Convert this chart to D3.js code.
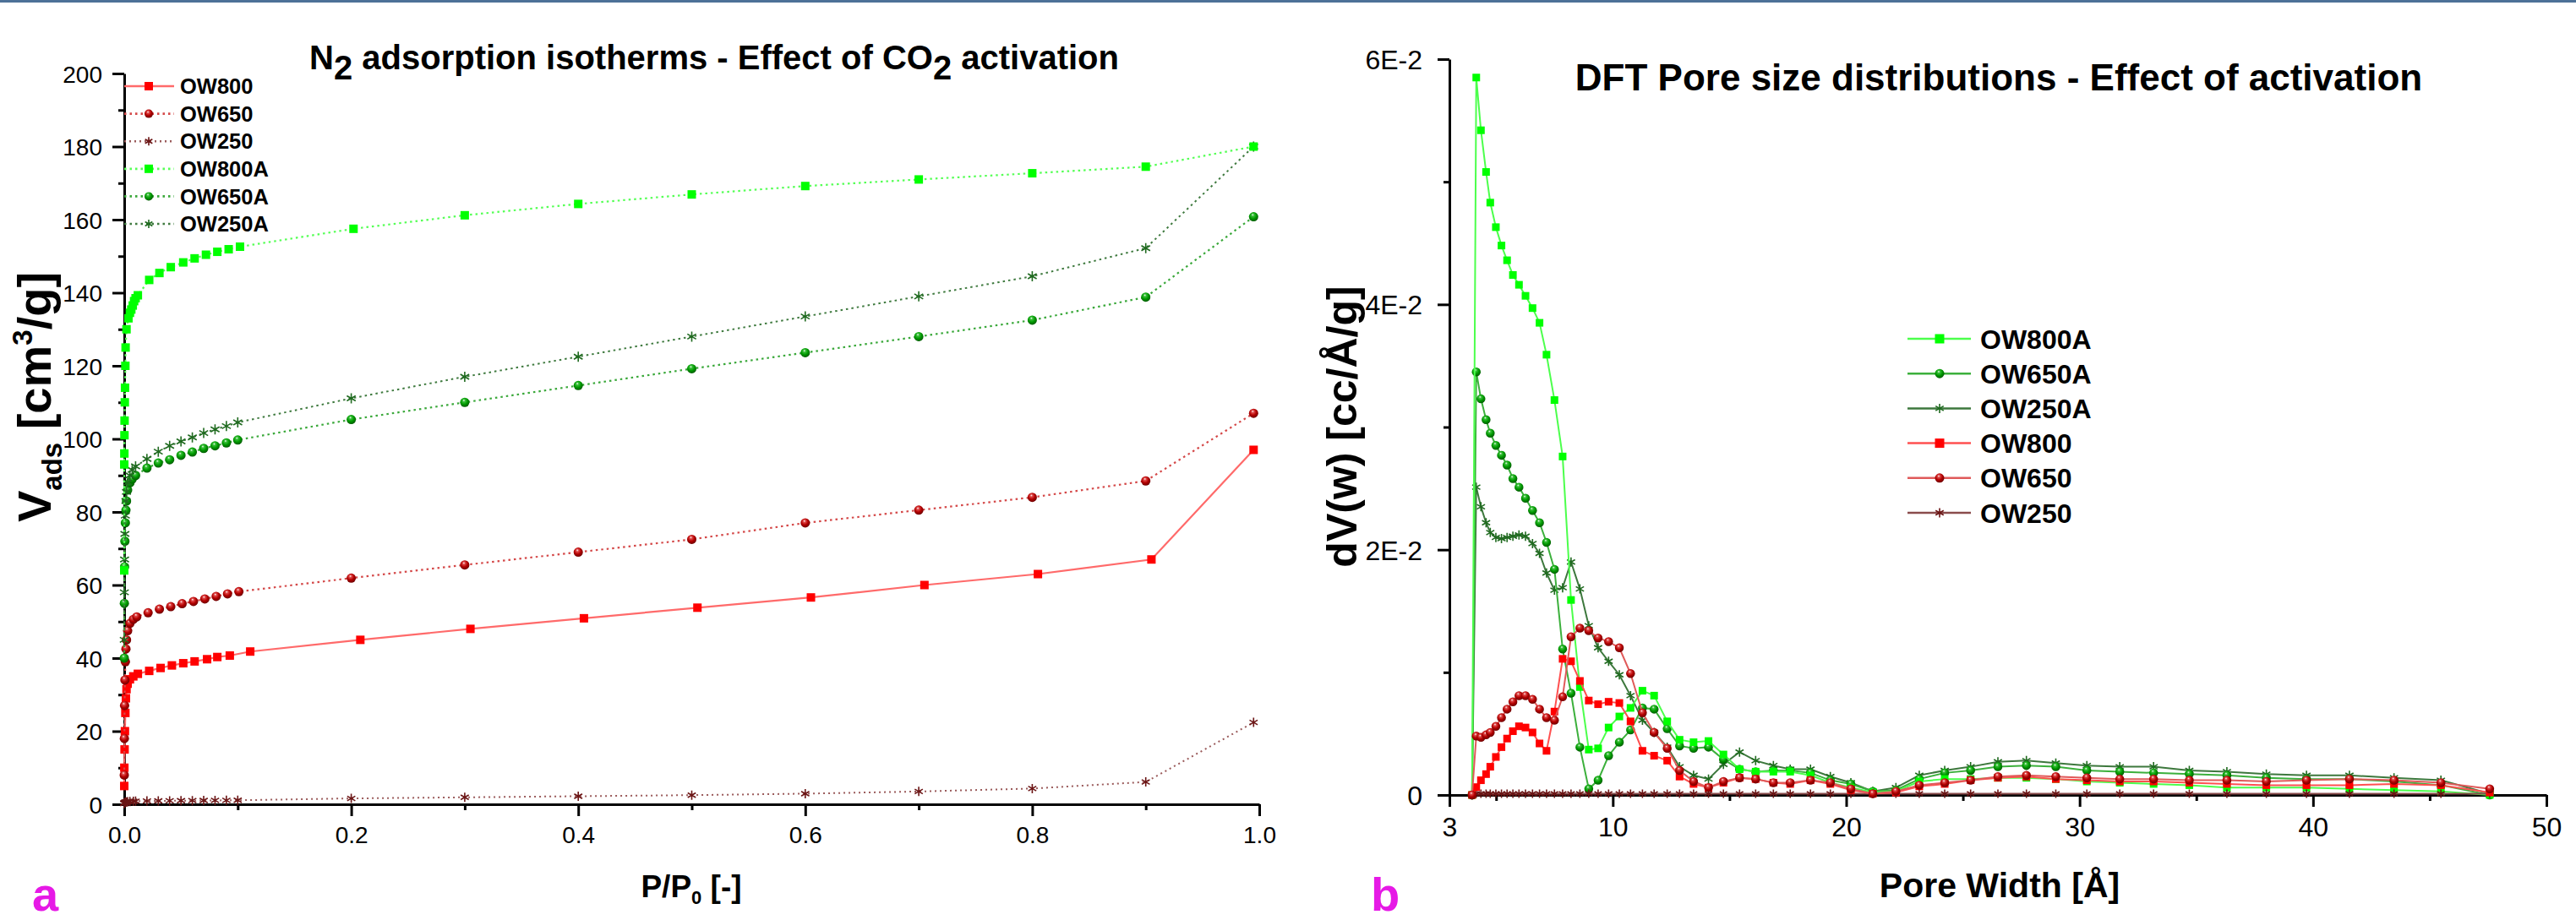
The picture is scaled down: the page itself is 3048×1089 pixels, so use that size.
<!DOCTYPE html>
<html lang="en">
<head>
<meta charset="UTF-8" />
<title>N2 isotherms and DFT pore size distributions</title>
<script src="https://d3js.org/d3.v7.min.js"></script>
<style>
  body { margin: 0; background: #fff; }
  svg { display: block; font-family: "Liberation Sans", Arial, sans-serif; }
  .axis path, .axis line { stroke: #000; stroke-width: 3px; }
  .axis text { fill: #000; font-family: "Liberation Sans", Arial, sans-serif; }
</style>
</head>
<body>
<svg width="3048" height="1089"></svg>
<script>
// ---------- panel a : N2 isotherms (P/P0, V ads) ----------
const pOW800  = [0.00002, 0.0001, 0.0003, 0.0006, 0.001, 0.0015, 0.002, 0.003, 0.005, 0.008,
                 0.012, 0.022, 0.032, 0.042, 0.052, 0.062, 0.073, 0.082, 0.093, 0.111,
                 0.208, 0.305, 0.405, 0.505, 0.605, 0.705, 0.805, 0.905, 0.995];
const vOW800  = [5, 10, 15, 20, 25, 29, 31.5, 33, 34.2, 35,
                 35.7, 36.5, 37.3, 38, 38.6, 39.1, 39.7, 40.3, 40.7, 41.8,
                 45, 48, 50.9, 53.8, 56.6, 60, 63, 67, 97];
const pOW650  = [0.00002, 0.0001, 0.0003, 0.0006, 0.001, 0.0015, 0.002, 0.003, 0.005, 0.008,
                 0.011, 0.021, 0.031, 0.041, 0.051, 0.061, 0.071, 0.081, 0.091, 0.101,
                 0.2, 0.3, 0.4, 0.5, 0.6, 0.7, 0.8, 0.9, 0.995];
const vOW650  = [8, 18, 27, 34, 39, 42.5, 45, 47.5, 49.5, 50.6,
                 51.3, 52.4, 53.4, 54.1, 54.9, 55.5, 56.2, 56.9, 57.6, 58.2,
                 61.9, 65.5, 69, 72.5, 77, 80.5, 84, 88.5, 107];
const pOW250  = [0.00002, 0.0001, 0.0003, 0.0006, 0.001, 0.0015, 0.002, 0.003, 0.005, 0.008,
                 0.01, 0.02, 0.03, 0.04, 0.05, 0.06, 0.07, 0.08, 0.09, 0.1,
                 0.2, 0.3, 0.4, 0.5, 0.6, 0.7, 0.8, 0.9, 0.995];
const vOW250  = [0.2, 0.3, 0.4, 0.5, 0.55, 0.6, 0.65, 0.7, 0.75, 0.8,
                 0.85, 0.9, 0.92, 0.95, 0.98, 1.0, 1.03, 1.06, 1.08, 1.1,
                 1.6, 1.9, 2.2, 2.5, 2.9, 3.5, 4.3, 6.1, 22.4];
const pOW800A = [0.00001, 0.00003, 0.0001, 0.0002, 0.0003, 0.0005, 0.0007, 0.001, 0.0012, 0.002,
                 0.0037, 0.005, 0.0062, 0.0075, 0.0087, 0.01, 0.012,
                 0.022, 0.031, 0.041, 0.052, 0.062, 0.072, 0.082, 0.092, 0.102,
                 0.202, 0.3, 0.4, 0.5, 0.6, 0.7, 0.8, 0.9, 0.995];
const vOW800A = [64, 93, 96, 101, 105, 110, 114, 120, 125, 130,
                 133, 134.5, 135.4, 136.5, 137.7, 138.5, 139.3,
                 143.5, 145.4, 147, 148.3, 149.4, 150.4, 151.2, 151.9, 152.6,
                 157.5, 161.2, 164.3, 166.9, 169.2, 171, 172.7, 174.5, 180];
const pOW650A = [0.00002, 0.0001, 0.0003, 0.0006, 0.001, 0.0015, 0.002, 0.003, 0.005, 0.007,
                 0.01, 0.02, 0.03, 0.04, 0.05, 0.06, 0.07, 0.08, 0.09, 0.1,
                 0.2, 0.3, 0.4, 0.5, 0.6, 0.7, 0.8, 0.9, 0.995];
const vOW650A = [40, 55, 65, 72, 77, 80.5, 83, 86, 88, 89,
                 90, 92, 93.4, 94.3, 95.5, 96.4, 97.4, 98.1, 98.9, 99.7,
                 105.3, 110, 114.6, 119.2, 123.6, 128, 132.5, 138.8, 160.8];
const pOW250A = [0.00002, 0.0001, 0.0003, 0.0006, 0.001, 0.0015, 0.002, 0.003, 0.005, 0.007,
                 0.01, 0.02, 0.03, 0.04, 0.05, 0.06, 0.07, 0.08, 0.09, 0.1,
                 0.2, 0.3, 0.4, 0.5, 0.6, 0.7, 0.8, 0.9, 0.995];
const vOW250A = [45, 58, 67, 74, 79, 83, 85.5, 88, 90, 91.5,
                 92.5, 94.5, 96.5, 98.1, 99.3, 100.4, 101.6, 102.6, 103.5, 104.5,
                 111.1, 117, 122.5, 128, 133.5, 139, 144.5, 152.2, 180];

const isoXTicks = [0, 0.2, 0.4, 0.6, 0.8, 1.0];
const isoXMinor = [0.1, 0.3, 0.5, 0.7, 0.9];
const isoYTicks = [0, 20, 40, 60, 80, 100, 120, 140, 160, 180, 200];
const isoYMinor = [10, 30, 50, 70, 90, 110, 130, 150, 170, 190];

// ---------- panel b : DFT pore size distributions ----------
const poreWidth = [3.97, 4.15, 4.35, 4.57, 4.75, 4.99, 5.23, 5.47, 5.72, 5.98, 6.26, 6.56, 6.86, 7.16,
  7.50, 7.85, 8.21, 8.59, 8.97, 9.37, 9.82, 10.28, 10.76, 11.27, 11.77, 12.33, 12.86, 13.46,
  14.10, 14.74, 15.43, 16.12, 16.88, 17.60, 18.47, 19.32, 20.20, 21.14, 22.13, 23.13, 24.22,
  25.33, 26.50, 27.72, 28.98, 30.31, 31.72, 33.17, 34.70, 36.31, 38.00, 39.72, 41.56, 43.47,
  45.48, 47.57];
const psdOW800A = [0, 0.0585, 0.0542, 0.0508, 0.0483, 0.0463, 0.0448, 0.0436, 0.0424, 0.0416, 0.0407,
  0.0397, 0.0385, 0.0359, 0.0322, 0.0276, 0.0159, 0.0088, 0.0037, 0.0038, 0.0055, 0.0064, 0.0071,
  0.0085, 0.0081, 0.0060, 0.0045, 0.0043, 0.0044, 0.0033, 0.0021, 0.0019, 0.0019, 0.0019,
  0.0016, 0.0010, 0.0006, 0.0002, 0.0003, 0.0011, 0.0013, 0.0013, 0.0014, 0.0014, 0.0013, 0.0011,
  0.0010, 0.0009, 0.0008, 0.0006, 0.0006, 0.0006, 0.0005, 0.0004, 0.0003, 0];
const psdOW650A = [0, 0.0345, 0.0323, 0.0306, 0.0295, 0.0285, 0.0277, 0.0269, 0.0258, 0.0251, 0.0242,
  0.0232, 0.0222, 0.0206, 0.0184, 0.0119, 0.0083, 0.0039, 0.0005, 0.0012, 0.0032, 0.0043, 0.0053,
  0.0071, 0.0070, 0.0054, 0.0040, 0.0038, 0.0039, 0.0029, 0.0021, 0.0019, 0.0020, 0.0020,
  0.0018, 0.0012, 0.0009, 0.0003, 0.0004, 0.0013, 0.0018, 0.0020, 0.0023, 0.0024, 0.0023, 0.0020,
  0.0019, 0.0018, 0.0017, 0.0016, 0.0014, 0.0013, 0.0013, 0.0011, 0.0008, 0];
const psdOW250A = [0, 0.0251, 0.0235, 0.0222, 0.0214, 0.0210, 0.0209, 0.0210, 0.0211, 0.0212, 0.0211,
  0.0205, 0.0197, 0.0181, 0.0167, 0.0169, 0.0190, 0.0168, 0.0138, 0.0120, 0.0109, 0.0098, 0.0081,
  0.0061, 0.0051, 0.0039, 0.0023, 0.0016, 0.0013, 0.0025, 0.0035, 0.0028, 0.0024, 0.0021,
  0.0021, 0.0015, 0.0010, 0.0003, 0.0006, 0.0016, 0.0020, 0.0023, 0.0027, 0.0028, 0.0026, 0.0024,
  0.0023, 0.0023, 0.0020, 0.0019, 0.0017, 0.0016, 0.0016, 0.0014, 0.0012, 0.0001];
const psdOW800 = [0, 0.00064, 0.0012, 0.0017, 0.0023, 0.0031, 0.0039, 0.0046, 0.0052, 0.0056, 0.0055,
  0.0051, 0.0042, 0.0036, 0.0068, 0.0111, 0.0109, 0.0093, 0.0077, 0.0074, 0.0076, 0.0075, 0.0060,
  0.0036, 0.0032, 0.0028, 0.0015, 0.0009, 0.0006, 0.0010, 0.0014, 0.0013, 0.0010, 0.0009,
  0.0012, 0.0009, 0.0004, 0.0001, 0.0002, 0.0007, 0.0009, 0.0012, 0.0014, 0.0015, 0.0013, 0.0012,
  0.0011, 0.0011, 0.0010, 0.0009, 0.0008, 0.0008, 0.0008, 0.0009, 0.0008, 0.0002];
const psdOW650 = [0, 0.0048, 0.0047, 0.0049, 0.0051, 0.0056, 0.0063, 0.0070, 0.0076, 0.0081, 0.0081,
  0.0078, 0.0070, 0.0063, 0.0061, 0.0080, 0.0129, 0.0136, 0.0134, 0.0128, 0.0125, 0.0120, 0.0099,
  0.0067, 0.0051, 0.0038, 0.0020, 0.0011, 0.0006, 0.0011, 0.0014, 0.0013, 0.0010, 0.0010,
  0.0012, 0.0010, 0.0005, 0.0001, 0.0003, 0.0008, 0.0010, 0.0012, 0.0015, 0.0016, 0.0015, 0.0014,
  0.0013, 0.0013, 0.0012, 0.0012, 0.0011, 0.0012, 0.0013, 0.0012, 0.0010, 0.0005];
const psdOW250 = [0, 0.0001, 0.0001, 0.0001, 0.0001, 0.0001, 0.0001, 0.0001, 0.0001, 0.0001, 0.0001,
  0.0001, 0.0001, 0.0001, 0.0001, 0.0001, 0.0001, 0.0001, 0.0001, 0.0001, 0.0001, 0.0001, 0.0001,
  0.0001, 0.0001, 0.0001, 0.0001, 0.0001, 0.0001, 0.0001, 0.0001, 0.0001, 0.0001, 0.0001,
  0.0001, 0.0001, 0.0001, 0.0001, 0.0001, 0.0001, 0.0001, 0.0001, 0.0001, 0.0001, 0.0001, 0.0001,
  0.0001, 0.0001, 0.0001, 0.0001, 0.0001, 0.0001, 0.0001, 0.0001, 0.0001, 0.0001];

const psdXTicks = [3, 10, 20, 30, 40, 50];
const psdXMinor = [5, 15, 25, 35, 45];
const psdYTicks = [0, 0.02, 0.04, 0.06];
const psdYMinor = [0.01, 0.03, 0.05];
const psdYLabels = ["0", "2E-2", "4E-2", "6E-2"];

// ---------- drawing ----------
const svg = d3.select("svg");
svg.append("rect").attr("x", 0).attr("y", 0).attr("width", 3048).attr("height", 3).attr("fill", "#4d7198");

const defs = svg.append("defs");
function sphereGrad(id, light, base, dark) {
  const gr = defs.append("radialGradient").attr("id", id)
    .attr("cx", "45%").attr("cy", "40%").attr("r", "60%").attr("fx", "40%").attr("fy", "28%");
  gr.append("stop").attr("offset", "0%").attr("stop-color", "#ffffff");
  gr.append("stop").attr("offset", "22%").attr("stop-color", light);
  gr.append("stop").attr("offset", "60%").attr("stop-color", base);
  gr.append("stop").attr("offset", "100%").attr("stop-color", dark);
}
sphereGrad("sphRed", "#e04a4a", "#b30000", "#6e0000");
sphereGrad("sphGreen", "#3cc03c", "#009a00", "#005a00");

const xIso = d3.scaleLinear().domain([0, 1]).range([147, 1490]);
const yIso = d3.scaleLinear().domain([0, 200]).range([952, 87]);
const xPsd = d3.scaleLinear().domain([3, 50]).range([1715, 3013]);
const yPsd = d3.scaleLinear().domain([0, 0.06]).range([941, 70]);

function drawMarker(g, type, color, size) {
  if (type === "square") {
    g.append("rect").attr("x", -size / 2).attr("y", -size / 2)
      .attr("width", size).attr("height", size).attr("fill", color);
  } else if (type === "circle") {
    g.append("circle").attr("r", size / 2).attr("fill", color);
  } else {
    const r = size / 2;
    const a = r * Math.cos(Math.PI / 6), b = r * Math.sin(Math.PI / 6);
    g.append("path")
      .attr("d", `M0,${-r}V${r}M${-a},${-b}L${a},${b}M${-a},${b}L${a},${-b}`)
      .attr("stroke", color).attr("stroke-width", 1.6).attr("fill", "none");
  }
}

function drawSeries(layer, xs, ys, x, y, st, msize) {
  const pts = xs.map((d, i) => [d, ys[i]]);
  const line = d3.line().x(d => x(d[0])).y(d => y(d[1]));
  layer.append("path").datum(pts).attr("d", line)
    .attr("fill", "none").attr("stroke", st.line).attr("stroke-width", st.width)
    .attr("stroke-dasharray", st.dash || null);
  layer.append("g").selectAll("g").data(pts).join("g")
    .attr("transform", d => `translate(${x(d[0])},${y(d[1])})`)
    .each(function () { drawMarker(d3.select(this), st.marker, st.fill, msize); });
}

function axes(x, y, xt, xm, yt, ym, fs, xfmt, yfmt, ypad) {
  const gx = svg.append("g").attr("class", "axis").attr("transform", `translate(0,${y.range()[0]})`);
  gx.call(d3.axisBottom(x).tickValues(xm).tickSize(7).tickFormat(""));
  gx.select(".domain").remove();
  const gx2 = svg.append("g").attr("class", "axis").attr("transform", `translate(0,${y.range()[0]})`);
  gx2.call(d3.axisBottom(x).tickValues(xt).tickSize(14).tickSizeOuter(0).tickPadding(12).tickFormat(xfmt));
  const gy = svg.append("g").attr("class", "axis").attr("transform", `translate(${x.range()[0]},0)`);
  gy.call(d3.axisLeft(y).tickValues(ym).tickSize(7).tickFormat(""));
  gy.select(".domain").remove();
  const gy2 = svg.append("g").attr("class", "axis").attr("transform", `translate(${x.range()[0]},0)`);
  gy2.call(d3.axisLeft(y).tickValues(yt).tickSize(14).tickSizeOuter(0).tickPadding(ypad).tickFormat(yfmt));
  [gx, gx2, gy, gy2].forEach(g => g.attr("font-size", null).attr("font-family", null));
  gx2.selectAll("text").attr("font-size", fs);
  gy2.selectAll("text").attr("font-size", fs);
  gx2.selectAll("text").attr("dy", "0.71em");
  gy2.selectAll("text").attr("dy", "0.36em");
}

// styles
const isoStyle = {
  OW800:  { line: "#ff6a6a", width: 2.2, dash: null,  marker: "square", fill: "#ff0000" },
  OW650:  { line: "#d44848", width: 2.2, dash: "2.5,4", marker: "circle", fill: "url(#sphRed)" },
  OW250:  { line: "#9a5a5a", width: 2, dash: "2,4", marker: "star", fill: "#6b1515" },
  OW800A: { line: "#55ff55", width: 2.2, dash: "2.5,4", marker: "square", fill: "#00ff00" },
  OW650A: { line: "#3aa83a", width: 2.2, dash: "2.5,4", marker: "circle", fill: "url(#sphGreen)" },
  OW250A: { line: "#3f7a3f", width: 2, dash: "2.5,4", marker: "star", fill: "#1f6a1f" }
};
const psdStyle = {
  OW800A: { line: "#4cff4c", width: 2, marker: "square", fill: "#00ff00" },
  OW650A: { line: "#3cb03c", width: 2, marker: "circle", fill: "url(#sphGreen)" },
  OW250A: { line: "#3d783d", width: 2, marker: "star", fill: "#1f6a1f" },
  OW800:  { line: "#ff5050", width: 2, marker: "square", fill: "#ff0000" },
  OW650:  { line: "#e05a5a", width: 2, marker: "circle", fill: "url(#sphRed)" },
  OW250:  { line: "#8a4c4c", width: 2, marker: "star", fill: "#6b1515" }
};

// panel a
axes(xIso, yIso, isoXTicks, isoXMinor, isoYTicks, isoYMinor, 28, d3.format(".1f"), d3.format("d"), 12);
const la = svg.append("g");
drawSeries(la, pOW250, vOW250, xIso, yIso, isoStyle.OW250, 11);
drawSeries(la, pOW800, vOW800, xIso, yIso, isoStyle.OW800, 10);
drawSeries(la, pOW650, vOW650, xIso, yIso, isoStyle.OW650, 11);
drawSeries(la, pOW650A, vOW650A, xIso, yIso, isoStyle.OW650A, 11);
drawSeries(la, pOW250A, vOW250A, xIso, yIso, isoStyle.OW250A, 12);
drawSeries(la, pOW800A, vOW800A, xIso, yIso, isoStyle.OW800A, 10);

// panel b
axes(xPsd, yPsd, psdXTicks, psdXMinor, psdYTicks, psdYMinor, 32, d3.format("d"), (d, i) => psdYLabels[i], 18);
const lb = svg.append("g");
drawSeries(lb, poreWidth, psdOW250A, xPsd, yPsd, psdStyle.OW250A, 11);
drawSeries(lb, poreWidth, psdOW650A, xPsd, yPsd, psdStyle.OW650A, 10.5);
drawSeries(lb, poreWidth, psdOW800A, xPsd, yPsd, psdStyle.OW800A, 9);
drawSeries(lb, poreWidth, psdOW250, xPsd, yPsd, psdStyle.OW250, 10);
drawSeries(lb, poreWidth, psdOW800, xPsd, yPsd, psdStyle.OW800, 9);
drawSeries(lb, poreWidth, psdOW650, xPsd, yPsd, psdStyle.OW650, 10.5);

// legends
function legend(names, styles, x0, y0, step, fs, msize, dashed) {
  const g = svg.append("g");
  names.forEach((n, i) => {
    const st = styles[n];
    const row = g.append("g").attr("transform", `translate(0,${y0 + i * step})`);
    row.append("line").attr("x1", x0).attr("x2", x0 + (dashed ? 59 : 75))
      .attr("stroke", st.line).attr("stroke-width", st.width + 0.5)
      .attr("stroke-dasharray", dashed ? st.dash : null);
    const m = row.append("g").attr("transform", `translate(${x0 + (dashed ? 29 : 38)},0)`);
    drawMarker(m, st.marker, st.fill, msize);
    row.append("text").attr("x", x0 + (dashed ? 66 : 86)).attr("dy", "0.36em")
      .attr("font-size", fs).attr("font-weight", "bold").text(n);
  });
}
legend(["OW800", "OW650", "OW250", "OW800A", "OW650A", "OW250A"], isoStyle, 147, 102, 32.6, 25.5, 10, true);
legend(["OW800A", "OW650A", "OW250A", "OW800", "OW650", "OW250"], psdStyle, 2257, 401, 41.2, 32, 11, false);

// titles
const t1 = svg.append("text").attr("x", 845).attr("y", 82).attr("text-anchor", "middle")
  .attr("font-size", 40).attr("font-weight", "bold");
t1.append("tspan").text("N");
t1.append("tspan").attr("dy", 12).text("2");
t1.append("tspan").attr("dy", -12).text(" adsorption isotherms - Effect of CO");
t1.append("tspan").attr("dy", 12).text("2");
t1.append("tspan").attr("dy", -12).text(" activation");

svg.append("text").attr("x", 2365).attr("y", 107).attr("text-anchor", "middle")
  .attr("font-size", 44).attr("font-weight", "bold")
  .text("DFT Pore size distributions - Effect of activation");

// axis titles
const xa = svg.append("text").attr("x", 818).attr("y", 1062).attr("text-anchor", "middle")
  .attr("font-size", 37).attr("font-weight", "bold");
xa.append("tspan").text("P/P");
xa.append("tspan").attr("font-size", 22).attr("dy", 8).text("0");
xa.append("tspan").attr("dy", -8).text(" [-]");

const ya = svg.append("text").attr("transform", "translate(60,470) rotate(-90)")
  .attr("text-anchor", "middle").attr("font-size", 56).attr("font-weight", "bold");
ya.append("tspan").text("V");
ya.append("tspan").attr("font-size", 33).attr("dy", 13).text("ads");
ya.append("tspan").attr("dy", -13).text(" [cm");
ya.append("tspan").attr("font-size", 33).attr("dy", -22).text("3");
ya.append("tspan").attr("dy", 22).text("/g]");

svg.append("text").attr("x", 2366).attr("y", 1062).attr("text-anchor", "middle")
  .attr("font-size", 41).attr("font-weight", "bold").text("Pore Width [Å]");

svg.append("text").attr("transform", "translate(1605,505) rotate(-90)")
  .attr("text-anchor", "middle").attr("font-size", 50).attr("font-weight", "bold")
  .text("dV(w) [cc/Å/g]");

// panel letters
svg.append("text").attr("x", 38).attr("y", 1078).attr("font-size", 56).attr("font-weight", "bold")
  .attr("fill", "#e619e6").text("a");
svg.append("text").attr("x", 1622).attr("y", 1078).attr("font-size", 56).attr("font-weight", "bold")
  .attr("fill", "#e619e6").text("b");
</script>
</body>
</html>
